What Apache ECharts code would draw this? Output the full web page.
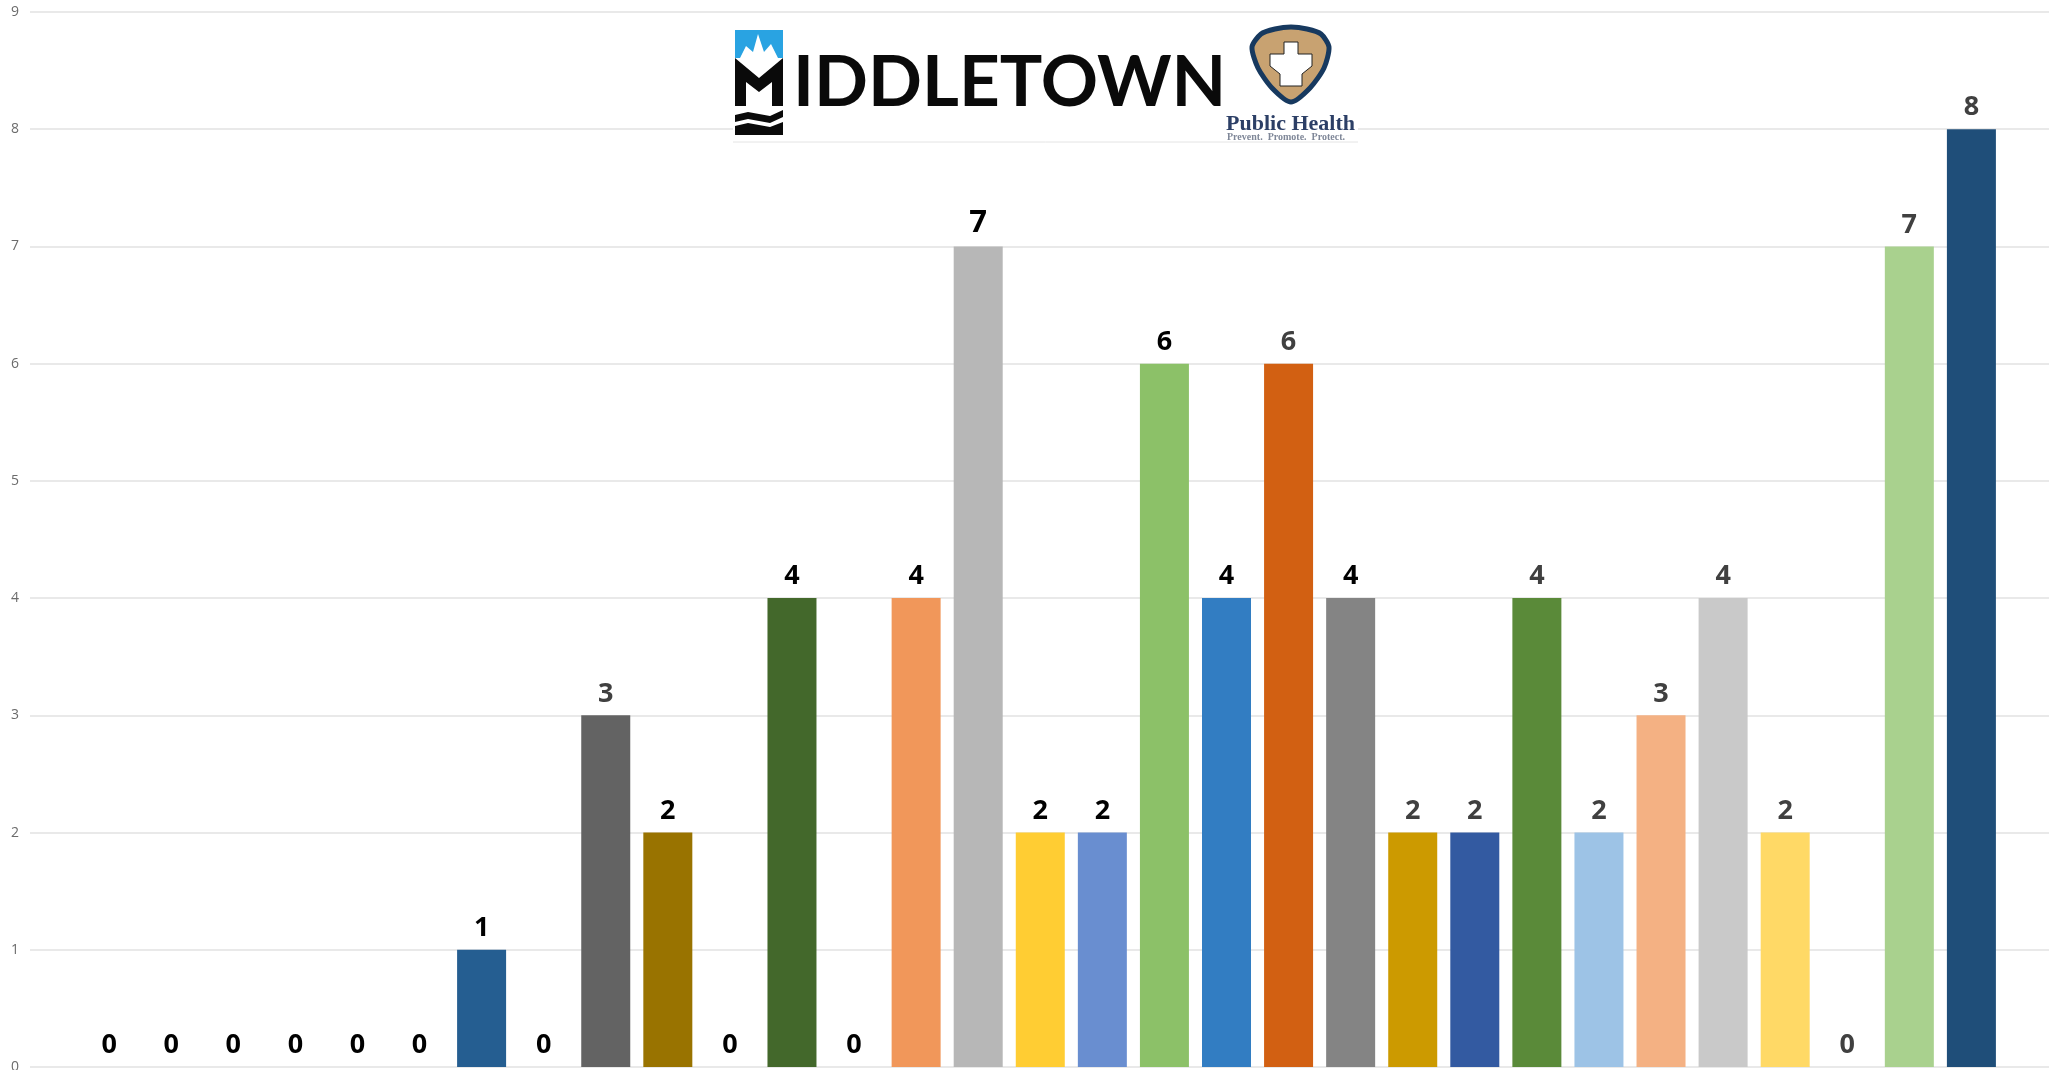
<!DOCTYPE html>
<html>
<head>
<meta charset="utf-8">
<title>Middletown</title>
<style>
  html, body { margin: 0; padding: 0; background: #fff; }
  #main { width: 2049px; height: 1070px; }
</style>
<script src="https://cdn.jsdelivr.net/npm/echarts@6/dist/echarts.min.js"></script>
</head>
<body>
<div id="main"></div>
<script>
  var values = [0, 0, 0, 0, 0, 0, 1, 0, 3, 2, 0, 4, 0, 4, 7, 2, 2, 6, 4, 6, 4, 2, 2, 4, 2, 3, 4, 2, 0, 7, 8];
  var barColors = ['#5b9bd5', '#ed7d31', '#a5a5a5', '#ffc000', '#4472c4', '#70ad47', '#255e91', '#9e480e',
    '#636363', '#997300', '#264478', '#43682b', '#7cafdd', '#f1975a', '#b7b7b7', '#ffcd33',
    '#698ed0', '#8cc168', '#327dc2', '#d26012', '#848484', '#cc9a00', '#335aa1', '#5a8a39',
    '#9dc3e6', '#f4b183', '#c9c9c9', '#ffd966', '#8faadc', '#a9d18e', '#1f4e79'];
  var labelColors = ['#000', '#000', '#000', '#000', '#000', '#000', '#000', '#000',
    '#404040', '#000', '#000', '#000', '#000', '#000', '#000', '#000',
    '#000', '#000', '#000', '#404040', '#000', '#404040', '#404040', '#404040',
    '#404040', '#404040', '#404040', '#404040', '#404040', '#404040', '#404040'];

  var myChart = echarts.init(document.getElementById('main'));

  // the little Middletown / Public Health logo pasted over the chart
  var logo = [
    { type: 'rect', shape: { x: 733, y: 26, width: 625, height: 117 }, style: { fill: '#fff' } },
    { type: 'line', shape: { x1: 733, y1: 142, x2: 1358, y2: 142 }, style: { stroke: '#e4e4e4', lineWidth: 1 } },
    { type: 'rect', shape: { x: 735, y: 30, width: 48, height: 28 }, style: { fill: '#29a3e2' } },
    { type: 'polygon', shape: { points: [[740, 58], [746, 46], [753, 52], [758, 34], [764, 52], [771, 44], [778, 58], [759, 72]] }, style: { fill: '#fff' } },
    { type: 'polygon', shape: { points: [[735, 58], [759, 78], [783, 58], [783, 106], [772, 106], [772, 82], [759, 92], [746, 82], [746, 106], [735, 106]] }, style: { fill: '#0a0a0a' } },
    { type: 'polygon', shape: { points: [[735, 115], [748, 112], [770, 116], [783, 110], [783, 117], [770, 123], [748, 119], [735, 122]] }, style: { fill: '#0a0a0a' } },
    { type: 'polygon', shape: { points: [[735, 126], [748, 123], [770, 127], [783, 122], [783, 135], [735, 135]] }, style: { fill: '#0a0a0a' } },
    { type: 'text', x: 793, y: 83, style: { text: 'IDDLETOWN', font: 'bold 71px Lato', fill: '#0a0a0a', textVerticalAlign: 'middle' } },
    { type: 'polygon', shape: { points: [[1261, 34], [1275, 29], [1291, 27], [1307, 29], [1321, 34], [1329, 47], [1324, 68], [1310, 88], [1291, 102], [1272, 88], [1258, 68], [1252, 47]], smooth: 0.25 }, style: { fill: '#c8a271', stroke: '#17395f', lineWidth: 5 } },
    { type: 'polygon', shape: { points: [[1284, 42], [1298, 42], [1298, 54], [1312, 54], [1312, 66], [1302, 74], [1302, 86], [1280, 86], [1280, 74], [1270, 66], [1270, 54], [1284, 54]] }, style: { fill: '#fff', stroke: '#222', lineWidth: 1 } },
    { type: 'text', x: 1226, y: 124, style: { text: 'Public Health', font: 'bold 22px "Liberation Serif"', fill: '#2c3f66', textVerticalAlign: 'middle' } },
    { type: 'text', x: 1227, y: 137, style: { text: 'Prevent.  Promote.  Protect.', font: 'bold 10px "Liberation Serif"', fill: '#7f8798', textVerticalAlign: 'middle' } }
  ];

  myChart.setOption({
    animation: false,
    backgroundColor: '#fff',
    grid: { left: 30, right: 0, top: 12, bottom: 3, outerBoundsMode: 'none' },
    xAxis: {
      type: 'value',
      min: -1.275,
      max: 31.25,
      show: false
    },
    yAxis: {
      type: 'value',
      min: 0,
      max: 9,
      interval: 1,
      axisLine: { show: false },
      axisTick: { show: false },
      axisLabel: { color: '#6b6b6b', fontSize: 14, fontFamily: 'Open Sans', margin: 11 },
      splitLine: { lineStyle: { color: '#e2e2e2', width: 1.5 } }
    },
    series: [{
      type: 'bar',
      barWidth: 49,
      data: values.map(function (v, i) {
        return {
          value: [i, v],
          itemStyle: { color: barColors[i] },
          label: { color: labelColors[i], fontSize: i === 14 ? 31 : 27 }
        };
      }),
      label: {
        show: true,
        position: 'top',
        distance: 8,
        fontFamily: 'Open Sans',
        fontWeight: 700,
        formatter: function (p) { return p.value[1]; }
      }
    }],
    graphic: { elements: logo.map(function (el) { el.z = 10; return el; }) }
  });
</script>
</body>
</html>
